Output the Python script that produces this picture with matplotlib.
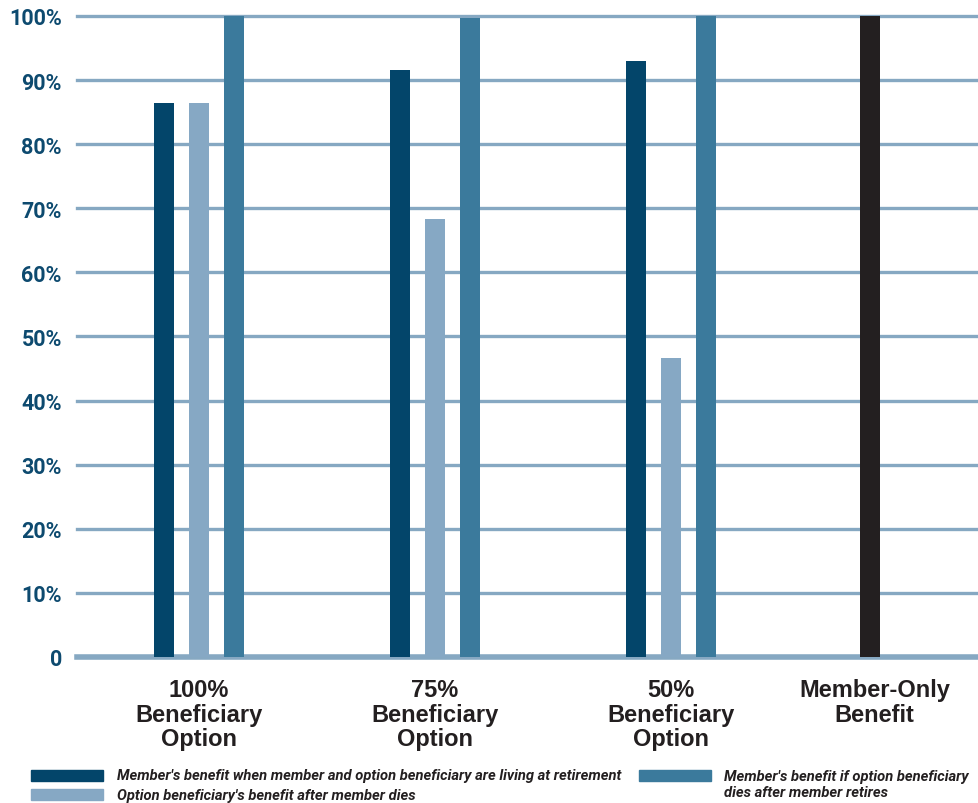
import numpy as np
import matplotlib.pyplot as plt
from matplotlib.patches import Rectangle

# Chart data
categories = ['100%\nBeneficiary\nOption', '75%\nBeneficiary\nOption',
              '50%\nBeneficiary\nOption', 'Member-Only\nBenefit']
living = [86.4, 91.6, 93.0]
after_death = [86.4, 68.3, 46.6]
bene_dies = [100.0, 99.7, 100.0]
member_only = [100.0]
series_labels = ["Member's benefit when member and option beneficiary are living at retirement",
                 "Option beneficiary's benefit after member dies",
                 "Member's benefit if option beneficiary\ndies after member retires"]
yticks = [0, 10, 20, 30, 40, 50, 60, 70, 80, 90, 100]
ytick_labels = ['0'] + [f'{v}%' for v in yticks[1:]]

# Colours
c_dark = '#03456a'
c_light = '#86a8c4'
c_mid = '#3b7a9c'
c_black = '#231f20'
c_grid = '#86a8c2'
c_tick = '#0d4a6f'

plt.rcParams['font.family'] = ['Roboto', 'DejaVu Sans']

fig = plt.figure(figsize=(9.79, 8.04), dpi=100)
ax = fig.add_axes([0.0787, 0.1816, 0.9213, 0.7973])

x = np.arange(3)
off = 0.148
w = 0.085
ax.bar(x - off, living, w, color=c_dark, zorder=3)
ax.bar(x, after_death, w, color=c_light, zorder=3)
ax.bar(x + off, bene_dies, w, color=c_mid, zorder=3)
mx = 3 - 0.157
ax.bar([mx], member_only, w, color=c_black, zorder=3)

ax.set_xlim(-0.517, 3.305)
ax.set_ylim(0, 100)

# Grid lines
for v in yticks:
    ax.axhline(v, color=c_grid, lw=4 if v == 0 else 2.4, zorder=1, clip_on=False)

for s in ax.spines.values():
    s.set_visible(False)

ax.set_yticks(yticks)
ax.set_yticklabels(ytick_labels, fontsize=15.5, fontweight='bold', color=c_tick)
ax.tick_params(axis='y', length=0, pad=11)

ax.set_xticks(list(x) + [mx + 0.02])
ax.set_xticklabels(categories, fontsize=17, fontweight='bold', color=c_black,
                   linespacing=1.1, family=['Liberation Sans', 'DejaVu Sans'])
ax.tick_params(axis='x', length=0, pad=15)

# Legend drawn by hand in figure coordinates
leg_font = dict(fontsize=10.6, fontweight='bold', style='italic', color=c_black)
sw, sh = 72 / 979, 11 / 804
fig.add_artist(Rectangle((31 / 979, 1 - 782 / 804), sw, sh, color=c_dark, transform=fig.transFigure))
fig.add_artist(Rectangle((31 / 979, 1 - 801 / 804), sw, sh, color=c_light, transform=fig.transFigure))
fig.add_artist(Rectangle((639 / 979, 1 - 782 / 804), sw, sh, color=c_mid, transform=fig.transFigure))
fig.text(117 / 979, 1 - 776 / 804, series_labels[0], va='center', ha='left', **leg_font)
fig.text(117 / 979, 1 - 796 / 804, series_labels[1], va='center', ha='left', **leg_font)
fig.text(724 / 979, 1 - 785 / 804, series_labels[2], va='center', ha='left',
         linespacing=1.25, **leg_font)

fig.savefig('out.png', dpi=100)
